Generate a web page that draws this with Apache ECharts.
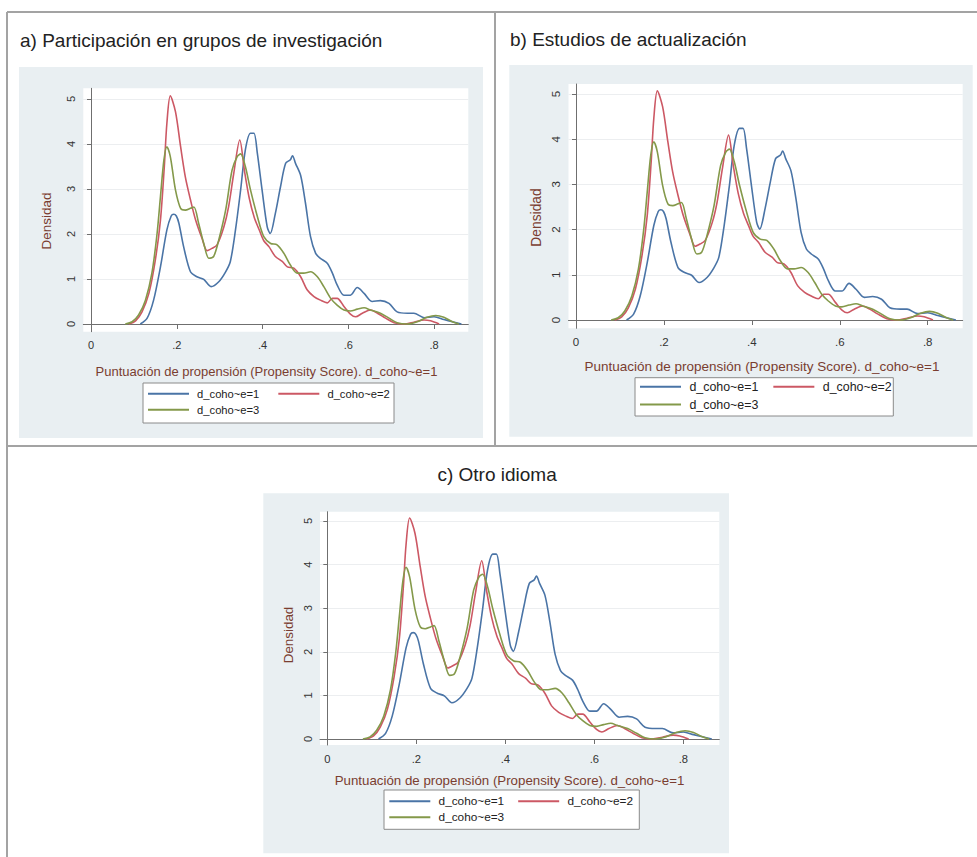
<!DOCTYPE html>
<html><head><meta charset="utf-8">
<script src="https://cdn.jsdelivr.net/npm/echarts@6/dist/echarts.min.js"></script>
<style>html,body{margin:0;padding:0;background:#fff}#c{width:977px;height:857px}</style>
</head><body><div id="c"></div>
<script>
// ---------- data ----------
const seriesNames = ['d_coho~e=1', 'd_coho~e=2', 'd_coho~e=3'];
const panelTitles = ['a) Participación en grupos de investigación', 'b) Estudios de actualización', 'c) Otro idioma'];
const xTitle = 'Puntuación de propensión (Propensity Score). d_coho~e=1';
const yTitle = 'Densidad';
const xTickValues = [0, 0.2, 0.4, 0.6, 0.8];
const yTickValues = [0, 1, 2, 3, 4, 5];

const xs1 = [0.115,0.131,0.146,0.162,0.177,0.187,0.193,0.199,0.205,0.216,0.232,0.247,0.263,0.280,0.298,0.314,0.325,0.337,0.349,0.360,0.372,0.380,0.388,0.399,0.411,0.418,0.430,0.442,0.454,0.465,0.470,0.477,0.489,0.500,0.512,0.524,0.535,0.551,0.563,0.574,0.590,0.605,0.621,0.637,0.656,0.675,0.695,0.714,0.738,0.753,0.777,0.800,0.823,0.843,0.864];
const dens1 = [0,0.13,0.53,1.27,2.09,2.40,2.44,2.40,2.24,1.72,1.16,1.05,0.99,0.83,0.94,1.16,1.39,2.09,2.98,3.87,4.24,4.24,3.79,2.98,2.16,2.01,2.46,3.05,3.57,3.65,3.74,3.57,3.30,2.70,1.94,1.57,1.46,1.35,1.13,0.87,0.64,0.64,0.81,0.68,0.50,0.52,0.46,0.27,0.24,0.24,0.14,0.16,0.10,0.05,0];

const xs2 = [0.088,0.104,0.119,0.135,0.150,0.162,0.171,0.177,0.185,0.197,0.209,0.220,0.232,0.244,0.259,0.271,0.282,0.294,0.310,0.321,0.333,0.347,0.358,0.369,0.381,0.392,0.403,0.415,0.430,0.446,0.458,0.473,0.489,0.504,0.520,0.535,0.551,0.563,0.574,0.590,0.605,0.617,0.633,0.652,0.668,0.687,0.707,0.730,0.753,0.777,0.792,0.812];
const dens2 = [0,0.07,0.27,0.68,1.42,2.31,3.50,4.46,5.07,4.72,3.94,3.27,2.76,2.31,1.90,1.63,1.68,1.76,2.16,2.61,3.35,4.09,3.40,2.80,2.36,2.10,1.85,1.72,1.50,1.39,1.27,1.24,1.05,0.76,0.61,0.53,0.47,0.57,0.57,0.39,0.22,0.16,0.24,0.31,0.24,0.13,0.03,0,0.04,0.09,0.07,0];

const xs3 = [0.080,0.096,0.111,0.127,0.142,0.154,0.162,0.170,0.177,0.185,0.197,0.209,0.220,0.232,0.240,0.251,0.263,0.275,0.286,0.298,0.314,0.329,0.341,0.349,0.360,0.372,0.388,0.403,0.419,0.434,0.450,0.465,0.481,0.496,0.512,0.528,0.543,0.559,0.574,0.590,0.605,0.621,0.637,0.652,0.675,0.695,0.714,0.738,0.761,0.784,0.804,0.823,0.843,0.858];
const dens3 = [0,0.05,0.20,0.53,1.13,2.00,2.83,3.64,3.94,3.72,2.98,2.57,2.53,2.57,2.60,2.24,1.79,1.46,1.50,1.87,2.53,3.42,3.72,3.78,3.50,2.98,2.39,1.94,1.79,1.76,1.57,1.31,1.13,1.13,1.16,1.05,0.83,0.57,0.42,0.31,0.29,0.33,0.36,0.31,0.24,0.13,0.03,0,0.05,0.15,0.19,0.15,0.05,0];

// ---------- layout & style ----------
const colors = ['#4a74a6', '#cc5864', '#84994a'];
const LAYOUT = [
  { outer:[19,67,483,438], plot:[83.3,88.3,468.3,331.7], x0:91, x8:434, y0:324, y5:99,
    title:{left:20, top:31}, leg:{box:[143,383,394,423], rows:[395,411], left:148, gap:19, fs:11.2},
    xt:{cx:266.5, cy:371.7, fs:13}, yt:{cx:46.7, cy:221, fs:13.5}, tickFs:11 },
  { outer:[509.3,65,972.7,436.7], plot:[568.5,84,962.7,328.3], x0:576, x8:927.7, y0:320, y5:94,
    title:{left:510, top:30}, leg:{box:[635,377.7,893.3,416], rows:[388.3,406], left:640, gap:15, fs:12.4},
    xt:{cx:762, cy:366.7, fs:13.5}, yt:{cx:536.7, cy:217.5, fs:13.8}, tickFs:11.5 },
  { outer:[263.3,493.3,729,853.3], plot:[320,511.7,719.3,745], x0:327.3, x8:683.3, y0:739, y5:521,
    title:{left:437.4, top:465}, leg:{box:[384,790,639.3,829.3], rows:[802.3,818.3], left:389.3, gap:14, fs:11.8},
    xt:{cx:509.5, cy:780.7, fs:13.3}, yt:{cx:288.3, cy:635, fs:13.4}, tickFs:11.2 }
];
const titleColor = '#7a3d30';
const FONT = '"Liberation Sans", Arial, sans-serif';

const grids = [], xAxes = [], yAxes = [], series = [], legends = [], titles = [], graphics = [];

function pairs(xs, ys) { return xs.map((x, i) => [x, ys[i]]); }
const seriesData = [pairs(xs1, dens1), pairs(xs2, dens2), pairs(xs3, dens3)];
const fmtX = v => (Math.abs(v) < 1e-9 ? '0' : v.toFixed(1).replace(/^0/, ''));

LAYOUT.forEach((P, p) => {
  const [pl, pt, pr, pb] = P.plot;
  const xPerUnit = (P.x8 - P.x0) / 0.8;
  const yPerUnit = (P.y0 - P.y5) / 5;
  const xmin = (pl - P.x0) / xPerUnit, xmax = (pr - P.x0) / xPerUnit;
  const ymin = -(pb - P.y0) / yPerUnit, ymax = (P.y0 - pt) / yPerUnit;
  const g = grids.length;

  grids.push({ left: pl, top: pt, width: pr - pl, height: pb - pt, containLabel: false });
  grids.push({ left: pl, top: P.y5, width: pr - pl, height: P.y0 - P.y5 });
  grids.push({ left: P.x0, top: pt, width: P.x8 - P.x0, height: pb - pt });

  const dx = P.xt.cx - (pl + pr) / 2;
  const dy = P.yt.cy - (pt + pb) / 2;
  xAxes.push({ gridIndex: g, type: 'value', min: xmin, max: xmax,
    axisLine: { show: true, lineStyle: { color: '#6f6f6f', width: 1 } },
    axisTick: { show: false }, axisLabel: { show: false }, splitLine: { show: false },
    name: xTitle, nameLocation: 'middle', nameGap: P.xt.cy - P.xt.fs / 2 - pb,
    nameTextStyle: { color: titleColor, fontSize: P.xt.fs, fontFamily: FONT,
      padding: dx >= 0 ? [0, 0, 0, 2 * dx] : [0, -2 * dx, 0, 0] } });
  yAxes.push({ gridIndex: g, type: 'value', min: ymin, max: ymax,
    axisLine: { show: true, lineStyle: { color: '#6f6f6f', width: 1 } },
    axisTick: { show: false }, axisLabel: { show: false }, splitLine: { show: false },
    name: yTitle, nameLocation: 'middle', nameRotate: 90, nameGap: pl - P.yt.cx - P.yt.fs / 2,
    nameTextStyle: { color: titleColor, fontSize: P.yt.fs, fontFamily: FONT,
      padding: dy >= 0 ? [0, 2 * dy, 0, 0] : [0, 0, 0, -2 * dy] } });

  xAxes.push({ gridIndex: g + 1, type: 'value', min: xmin, max: xmax, show: false });
  yAxes.push({ gridIndex: g + 1, type: 'value', min: 0, max: 5, interval: 1,
    axisLine: { show: false }, axisTick: { show: true, length: 4, lineStyle: { color: '#6f6f6f' } },
    axisLabel: { rotate: 90, margin: 7, color: '#333', fontSize: P.tickFs, fontFamily: FONT },
    splitLine: { show: true, lineStyle: { color: '#eceef0', width: 1 } } });
  xAxes.push({ gridIndex: g + 2, type: 'value', min: 0, max: 0.8, interval: 0.2,
    axisLine: { show: false }, axisTick: { show: true, length: 5, lineStyle: { color: '#6f6f6f' } },
    axisLabel: { margin: 8, color: '#333', fontSize: P.tickFs, fontFamily: FONT, formatter: fmtX },
    splitLine: { show: false } });
  yAxes.push({ gridIndex: g + 2, type: 'value', min: ymin, max: ymax, show: false });

  seriesNames.forEach((nm, k) => {
    series.push({ type: 'line', name: nm, xAxisIndex: xAxes.length - 3, yAxisIndex: yAxes.length - 3,
      data: seriesData[k], symbol: 'none', smooth: 0.3, color: colors[k],
      lineStyle: { color: colors[k], width: 1.6 }, silent: true, animation: false });
  });

  titles.push({ text: panelTitles[p], left: P.title.left, top: P.title.top, padding: 0,
    textStyle: { fontSize: 19, fontWeight: 'normal', color: '#222', fontFamily: FONT } });

  const legBase = { orient: 'horizontal', icon: 'rect', itemWidth: 41, itemHeight: 2, padding: 0,
    selectedMode: false, formatter: nm => ' ' + nm,
    textStyle: { fontSize: P.leg.fs, color: '#222', fontFamily: FONT } };
  const lOff = P.leg.fs * 0.6;
  legends.push(Object.assign({}, legBase, { data: [seriesNames[0], seriesNames[1]], left: P.leg.left,
    top: P.leg.rows[0] - lOff, itemGap: P.leg.gap }));
  legends.push(Object.assign({}, legBase, { data: [seriesNames[2]], left: P.leg.left, top: P.leg.rows[1] - lOff }));

  const [ox0, oy0, ox1, oy1] = P.outer;
  graphics.push({ type: 'rect', z: -20, shape: { x: ox0, y: oy0, width: ox1 - ox0, height: oy1 - oy0 },
    style: { fill: '#e9eff2' }, silent: true });
  graphics.push({ type: 'rect', z: -19, shape: { x: pl, y: pt, width: pr - pl, height: pb - pt },
    style: { fill: '#ffffff' }, silent: true });
  const [lx0, ly0, lx1, ly1] = P.leg.box;
  graphics.push({ type: 'rect', z: -18, shape: { x: lx0, y: ly0, width: lx1 - lx0, height: ly1 - ly0 },
    style: { fill: '#ffffff', stroke: '#8a8a8a', lineWidth: 1 }, silent: true });
});

const frameColor = '#a3a3a3';
[[7, 12, 977, 12], [7, 12, 7, 857], [495, 12, 495, 446], [7, 446, 977, 446]].forEach(l => {
  graphics.push({ type: 'line', z: -10, shape: { x1: l[0], y1: l[1], x2: l[2], y2: l[3] },
    style: { stroke: frameColor, lineWidth: 2 }, silent: true });
});

const chart = echarts.init(document.getElementById('c'), null, { renderer: 'svg', width: 977, height: 857 });
chart.setOption({
  animation: false,
  backgroundColor: '#ffffff',
  title: titles,
  legend: legends,
  grid: grids,
  xAxis: xAxes,
  yAxis: yAxes,
  series: series,
  graphic: graphics
});
</script>
</body></html>
